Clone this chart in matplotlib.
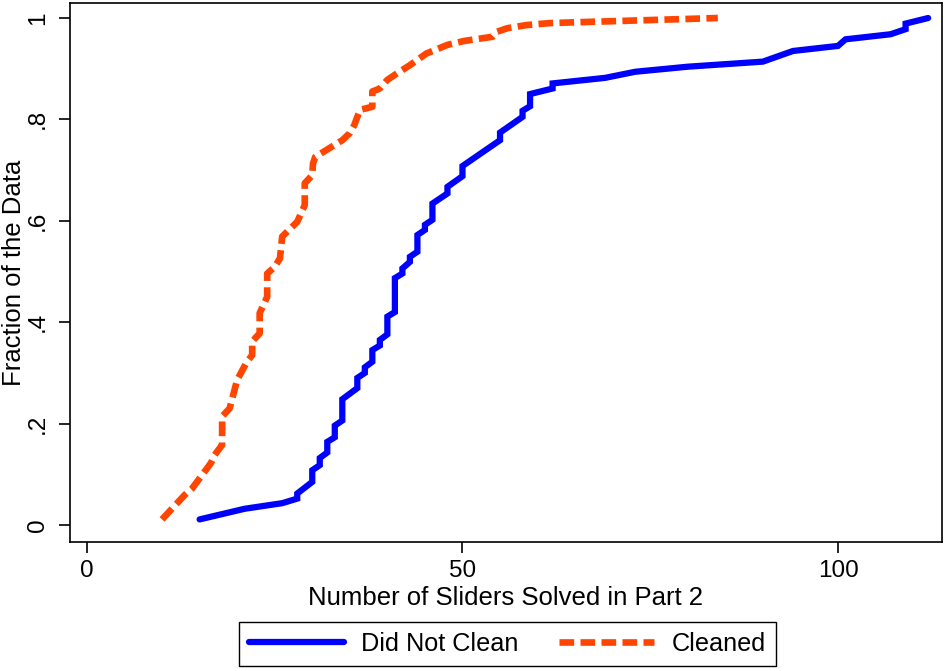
import matplotlib
matplotlib.use("Agg")
import matplotlib.pyplot as plt

# cumulative distribution vertices
not_clean_x = [15, 21, 26, 28, 28, 30, 30, 31, 31, 32, 32, 33, 33, 34, 34,
               36, 36, 37, 37, 38, 38, 39, 39, 40, 40, 41, 41, 42, 42, 43, 43,
               44, 44, 45, 45, 46, 46, 48, 48, 50, 50, 55, 55, 58, 58, 59, 59,
               62, 62, 69, 73, 80, 90, 94, 100, 101, 107, 109, 109, 112]
not_clean_y = [0.011, 0.032, 0.043, 0.052, 0.062, 0.085, 0.108, 0.118, 0.132,
               0.143, 0.164, 0.173, 0.196, 0.206, 0.248, 0.270, 0.290, 0.300,
               0.311, 0.322, 0.345, 0.354, 0.365, 0.376, 0.411, 0.420, 0.487,
               0.496, 0.506, 0.519, 0.529, 0.539, 0.572, 0.582, 0.592, 0.602,
               0.634, 0.654, 0.667, 0.688, 0.708, 0.759, 0.774, 0.805, 0.817,
               0.826, 0.850, 0.861, 0.871, 0.882, 0.894, 0.904, 0.914, 0.935,
               0.945, 0.958, 0.968, 0.978, 0.989, 1.000]

cleaned_x = [10, 13, 14, 16.5, 17, 18, 18, 19, 20, 21.3, 22, 22, 23, 23,
             24, 24, 25, 25.7, 26, 28, 29, 29, 30, 30.1, 30.4, 34, 35, 35.6,
             36, 36.4, 38, 38, 39, 40, 41, 43, 45.2, 48, 50.3, 54, 54.6, 56,
             58.5, 61.6, 66, 84]
cleaned_y = [0.011, 0.059, 0.072, 0.122, 0.138, 0.158, 0.214, 0.230, 0.286,
             0.322, 0.335, 0.362, 0.378, 0.418, 0.450, 0.496, 0.509, 0.526,
             0.569, 0.598, 0.631, 0.674, 0.690, 0.713, 0.726, 0.759, 0.773,
             0.789, 0.805, 0.819, 0.825, 0.855, 0.861, 0.878, 0.888, 0.907,
             0.930, 0.947, 0.955, 0.963, 0.973, 0.980, 0.986, 0.990, 0.992,
             1.000]

x_ticks = [0, 50, 100]
y_ticks = [0, 0.2, 0.4, 0.6, 0.8, 1.0]
y_tick_labels = ["0", ".2", ".4", ".6", ".8", "1"]

plt.rcParams["font.family"] = ["Liberation Sans", "DejaVu Sans"]

fig = plt.figure(figsize=(9.48, 6.71), dpi=100)
ax = fig.add_axes([0.0738, 0.1923, 0.9199, 0.8032])

ax.plot(not_clean_x, not_clean_y, color="#0000FF", lw=4.5,
        solid_joinstyle="miter", solid_capstyle="round", label="Did Not Clean")
ax.plot(cleaned_x, cleaned_y, color="#FF4500", lw=4.8, dashes=(2.2, 0.95),
        label="Cleaned")

ax.set_xlim(-2.26, 113.85)
ax.set_ylim(-0.0335, 1.0296)

ax.set_xticks(x_ticks)
ax.set_xticklabels([str(t) for t in x_ticks])
ax.set_yticks(y_ticks)
ax.set_yticklabels(y_tick_labels, rotation=90, va="center")

ax.tick_params(axis="both", direction="out", length=8, width=1.2,
               labelsize=17.5, colors="black")
ax.tick_params(axis="x", pad=5)
ax.tick_params(axis="y", pad=7)

for s in ax.spines.values():
    s.set_linewidth(1.2)

ax.set_xlabel("Number of Sliders Solved in Part 2", fontsize=18.5)
ax.xaxis.set_label_coords(0.5, -0.082)
ax.set_ylabel("Fraction of the Data", fontsize=18.5)
ax.yaxis.set_label_coords(-0.05, 0.5)

fig.legend(loc="center", bbox_to_anchor=(0.5353, 0.0402), ncol=2,
           fontsize=18.2, frameon=True, fancybox=False, edgecolor="black",
           handlelength=3.76, columnspacing=1.6, borderpad=0.4,
           handletextpad=0.68, framealpha=1)

fig.savefig("out.png", dpi=100)
